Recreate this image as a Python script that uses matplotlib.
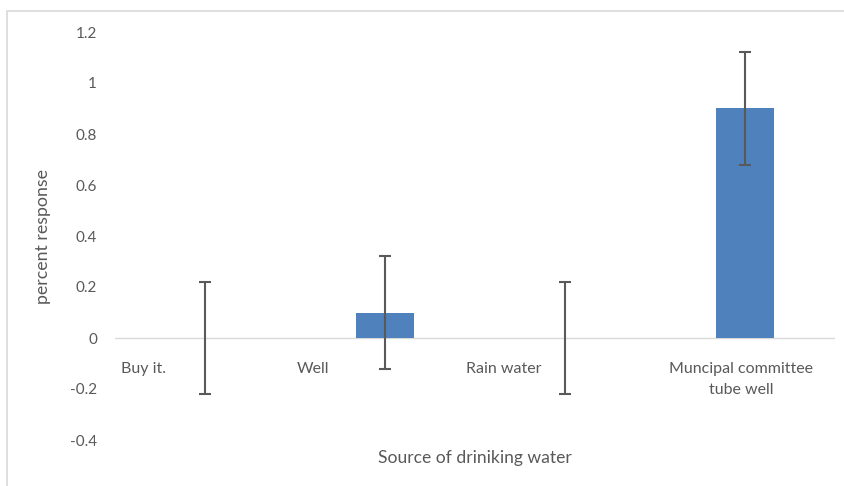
import matplotlib.pyplot as plt
from matplotlib.patches import Rectangle

categories = ["Buy it.", "Well", "Rain water", "Muncipal committee\ntube well"]
values = [0.0, 0.1, 0.0, 0.9]
errors = [0.22, 0.22, 0.22, 0.22]
yticks = [-0.4, -0.2, 0, 0.2, 0.4, 0.6, 0.8, 1.0, 1.2]
ytick_labels = ["-0.4", "-0.2", "0", "0.2", "0.4", "0.6", "0.8", "1", "1.2"]

# Excel put the category labels a bit to the left of each bar
label_shift = [-0.34, -0.40, -0.34, -0.02]

txt = "#595959"
plt.rcParams['font.family'] = ['Lato', 'DejaVu Sans']

fig = plt.figure(figsize=(8.45, 4.86), dpi=100)
ax = fig.add_axes([115 / 845, 1 - 440 / 486, 720 / 845, 408 / 486])

x = list(range(len(categories)))
ax.bar(x, values, width=0.317, color="#4F81BD", linewidth=0, zorder=2)
ax.errorbar(x, values, yerr=errors, fmt="none", ecolor="#595959",
            elinewidth=1.5, capsize=4, capthick=1.5, zorder=3)

ax.axhline(0, color="#D9D9D9", linewidth=1, zorder=1)
ax.set_xlim(-0.5, 3.5)
ax.set_ylim(-0.4, 1.2)
ax.set_yticks(yticks)
ax.set_yticklabels(ytick_labels)
ax.set_xticks([])
ax.tick_params(axis="y", length=0, pad=13, labelsize=11, labelcolor=txt)
for s in ax.spines.values():
    s.set_visible(False)

for i, lab in enumerate(categories):
    ax.text(i + label_shift[i], -0.095, lab, ha="center", va="top",
            fontsize=11.5, color=txt, linespacing=1.6)

fig.text(43 / 845, 1 - 236 / 486, "percent response", rotation=90,
         ha="center", va="center", fontsize=12.8, color=txt)
fig.text(475 / 845, 1 - 458 / 486, "Source of driniking water",
         ha="center", va="center", fontsize=12.6, color=txt)

fig.patches.append(Rectangle((7 / 845, -0.1), 1.2, 1 - 11 / 486 + 0.1,
                             transform=fig.transFigure, fill=False,
                             edgecolor="#D9D9D9", linewidth=1.2))

fig.savefig("out.png", dpi=100)
